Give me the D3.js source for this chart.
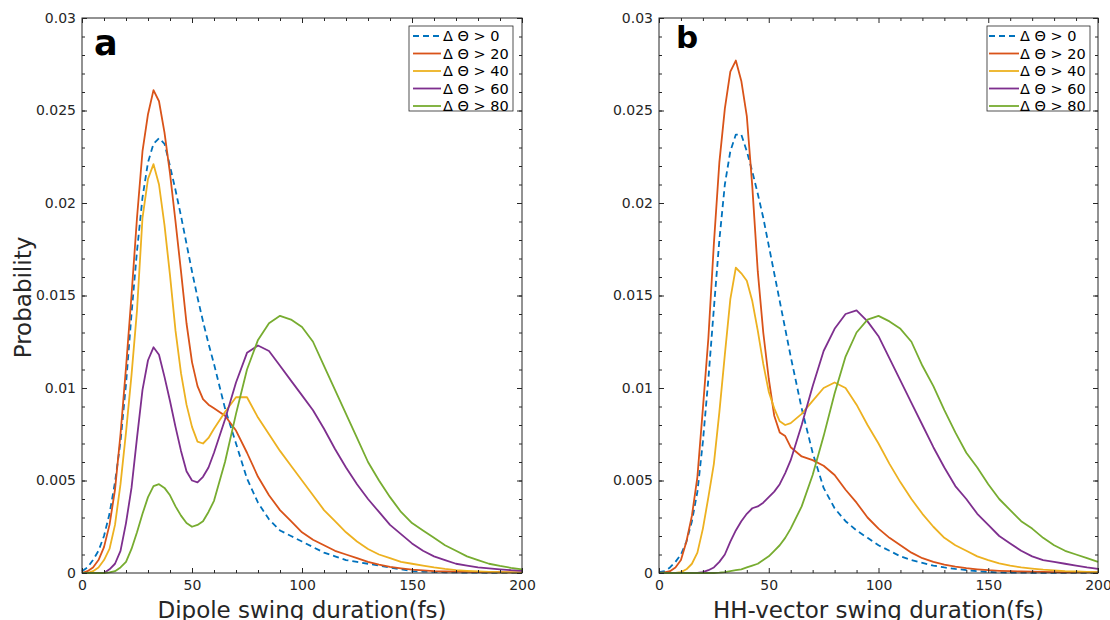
<!DOCTYPE html>
<html>
<head>
<meta charset="utf-8">
<script src="https://cdn.jsdelivr.net/npm/d3@7"></script>
<style>
  html, body { margin: 0; padding: 0; background: #ffffff; }
  svg { display: block; font-family: "DejaVu Sans", "Liberation Sans", sans-serif; }
</style>
</head>
<body>
<svg id="chart" width="1110" height="620"></svg>
<script>
// ---------------- DATA ----------------
const durations = [0, 2.5, 5, 7.5, 10, 12.5, 15, 17.5, 20, 22.5, 25, 27.5, 30, 32.5, 35, 37.5, 40, 42.5, 45, 47.5,
  50, 52.5, 55, 57.5, 60, 65, 70, 75, 80, 85, 90, 95, 100, 105, 110, 115, 120, 125, 130, 135,
  140, 145, 150, 155, 160, 165, 170, 175, 180, 185, 190, 195, 200];

const seriesLabels = ["\u0394 \u0398 > 0", "\u0394 \u0398 > 20", "\u0394 \u0398 > 40", "\u0394 \u0398 > 60", "\u0394 \u0398 > 80"];
const seriesColors = ["#0072BD", "#D95319", "#EDB120", "#7E2F8E", "#77AC30"];

// Panel a: dipole swing duration
const dipoleGt0 = [0.0001, 0.0003, 0.0007, 0.0012, 0.0020, 0.0032, 0.0049, 0.0071, 0.0102, 0.0140, 0.0174, 0.0203, 0.0222, 0.0232, 0.0235, 0.0232, 0.0220, 0.0207, 0.0193, 0.0178,
  0.0163, 0.0149, 0.0136, 0.0124, 0.0113, 0.0089, 0.0070, 0.0051, 0.0038, 0.0029, 0.0023, 0.0020, 0.0017, 0.0014, 0.0011, 0.0009, 0.0007, 0.0006, 0.0005, 0.0004,
  0.0003, 0.0002, 0.0001, 0.00008, 0.00006, 0.00004, 0.00003, 0.00002, 0.00002, 0.00001, 0.00001, 0.00001, 0.00001];
const dipoleGt20 = [0, 0.0001, 0.0003, 0.0007, 0.0014, 0.0026, 0.0045, 0.0075, 0.0111, 0.0150, 0.0192, 0.0228, 0.0248, 0.0261, 0.0255, 0.0238, 0.0216, 0.0190, 0.0163, 0.0135,
  0.0114, 0.0101, 0.0094, 0.0091, 0.0089, 0.0085, 0.0077, 0.0065, 0.0052, 0.0042, 0.0034, 0.0028, 0.0022, 0.0018, 0.0015, 0.0012, 0.0010, 0.0008, 0.0006, 0.00045,
  0.00033, 0.00025, 0.00018, 0.00014, 0.0001, 0.00008, 0.00007, 0.00006, 0.00005, 0.00004, 0.00004, 0.00003, 0.00003];
const dipoleGt40 = [0, 0, 0.0001, 0.0003, 0.0007, 0.0013, 0.0026, 0.0048, 0.0076, 0.0107, 0.0142, 0.0192, 0.0213, 0.0221, 0.0210, 0.0188, 0.0161, 0.0131, 0.0108, 0.0091,
  0.0079, 0.0071, 0.0070, 0.0073, 0.0078, 0.0087, 0.0095, 0.0095, 0.0084, 0.0075, 0.0066, 0.0058, 0.0050, 0.0042, 0.0034, 0.0028, 0.0022, 0.0017, 0.0013, 0.0010,
  0.0008, 0.0006, 0.0005, 0.0004, 0.0003, 0.00022, 0.00016, 0.00012, 0.00009, 0.00006, 0.00004, 0.00003, 0.00002];
const dipoleGt60 = [0, 0, 0, 0, 0, 0.0002, 0.0005, 0.0012, 0.0027, 0.0046, 0.0073, 0.0099, 0.0115, 0.0122, 0.0118, 0.0106, 0.0093, 0.0079, 0.0066, 0.0055,
  0.0050, 0.0049, 0.0052, 0.0057, 0.0065, 0.0083, 0.0103, 0.0119, 0.0123, 0.0120, 0.0112, 0.0104, 0.0096, 0.0088, 0.0078, 0.0067, 0.0057, 0.0048, 0.0040, 0.0033,
  0.0026, 0.0021, 0.0016, 0.0012, 0.0009, 0.0007, 0.0005, 0.0004, 0.0003, 0.00025, 0.0002, 0.00015, 0.00012];
const dipoleGt80 = [0, 0, 0, 0, 0, 0.00003, 0.0001, 0.0003, 0.0006, 0.0013, 0.0022, 0.0032, 0.0041, 0.0047, 0.0048, 0.0046, 0.0042, 0.0036, 0.0031, 0.0027,
  0.0025, 0.0026, 0.0028, 0.0033, 0.0039, 0.0060, 0.0086, 0.0110, 0.0126, 0.0135, 0.0139, 0.0137, 0.0133, 0.0125, 0.0112, 0.0099, 0.0086, 0.0073, 0.0060, 0.0050,
  0.0041, 0.0033, 0.0027, 0.0023, 0.0019, 0.0015, 0.0012, 0.0009, 0.0007, 0.0005, 0.00038, 0.00028, 0.0002];

// Panel b: HH-vector swing duration
const hhGt0 = [0.00005, 0.0001, 0.0003, 0.0006, 0.0010, 0.0017, 0.0028, 0.0044, 0.0071, 0.0105, 0.0143, 0.0180, 0.0210, 0.0228, 0.0237, 0.0237, 0.0228, 0.0217, 0.0205, 0.0192,
  0.0177, 0.0162, 0.0147, 0.0132, 0.0117, 0.0089, 0.0065, 0.0046, 0.0035, 0.0028, 0.0023, 0.0019, 0.0015, 0.0012, 0.0009, 0.0007, 0.00055, 0.0004, 0.0003, 0.00022,
  0.00016, 0.0001, 0.00006, 0.00003, 0.00002, 0.00002, 0.00001, 0.00001, 0.00001, 0.00001, 0.00001, 0.00001, 0.00001];
const hhGt20 = [0, 0.00003, 0.0001, 0.0003, 0.0007, 0.0017, 0.0031, 0.0052, 0.0089, 0.0127, 0.0178, 0.0222, 0.0251, 0.0271, 0.0277, 0.0266, 0.0247, 0.0209, 0.0163, 0.0130,
  0.0105, 0.0085, 0.0076, 0.0074, 0.0068, 0.0063, 0.0061, 0.0058, 0.0053, 0.0045, 0.0038, 0.0030, 0.0024, 0.0019, 0.0015, 0.0011, 0.0008, 0.0006, 0.00045, 0.00034,
  0.00026, 0.0002, 0.00015, 0.00012, 0.0001, 0.00008, 0.00007, 0.00006, 0.00005, 0.00004, 0.00004, 0.00003, 0.00003];
const hhGt40 = [0, 0, 0, 0, 0.00005, 0.0002, 0.0005, 0.0011, 0.0024, 0.0041, 0.0059, 0.0087, 0.0118, 0.0148, 0.0165, 0.0162, 0.0158, 0.0147, 0.0131, 0.0113,
  0.0098, 0.0089, 0.0082, 0.0080, 0.0081, 0.0086, 0.0093, 0.0100, 0.0103, 0.0100, 0.0091, 0.0080, 0.0070, 0.0059, 0.0049, 0.0040, 0.0032, 0.0025, 0.0019, 0.0015,
  0.0012, 0.0009, 0.0007, 0.00052, 0.0004, 0.0003, 0.00024, 0.00018, 0.00014, 0.0001, 0.00008, 0.00006, 0.00004];
const hhGt60 = [0, 0, 0, 0, 0, 0, 0, 0, 0.00005, 0.00015, 0.0003, 0.0006, 0.0010, 0.0017, 0.0023, 0.0028, 0.0032, 0.0035, 0.0036, 0.0038,
  0.0041, 0.0044, 0.0048, 0.0054, 0.0061, 0.0080, 0.0101, 0.0120, 0.0132, 0.0140, 0.0142, 0.0136, 0.0128, 0.0116, 0.0104, 0.0092, 0.0080, 0.0068, 0.0057, 0.0047,
  0.0040, 0.0032, 0.0026, 0.0020, 0.0016, 0.0012, 0.0009, 0.0007, 0.0006, 0.0005, 0.0004, 0.0003, 0.00022];
const hhGt80 = [0, 0, 0, 0, 0, 0, 0, 0, 0, 0, 0, 0.00002, 0.00005, 0.0001, 0.00015, 0.0002, 0.0003, 0.0004, 0.0005, 0.0007,
  0.0009, 0.0012, 0.0015, 0.0019, 0.0024, 0.0036, 0.0053, 0.0074, 0.0097, 0.0117, 0.0130, 0.0137, 0.0139, 0.0136, 0.0132, 0.0125, 0.0112, 0.0101, 0.0088, 0.0076,
  0.0065, 0.0057, 0.0048, 0.0040, 0.0034, 0.0028, 0.0024, 0.0019, 0.0015, 0.0012, 0.0010, 0.0008, 0.0006];

const xTickValues = [0, 50, 100, 150, 200];
const yTickValues = [0, 0.005, 0.01, 0.015, 0.02, 0.025, 0.03];
const yTickLabels = ["0", "0.005", "0.01", "0.015", "0.02", "0.025", "0.03"];
const panelLetters = ["a", "b"];
const xAxisTitles = ["Dipole swing duration(fs)", "HH-vector swing duration(fs)"];
const yAxisTitle = "Probability";

// ---------------- DRAWING ----------------
const svg = d3.select("#chart");
const ink = "#262626";
const plotTop = 18, plotBottom = 573;

const panels = [
  { left: 82, right: 522, series: [dipoleGt0, dipoleGt20, dipoleGt40, dipoleGt60, dipoleGt80],
    letter: panelLetters[0], letterX: 94, letterY: 55, letterSize: 35, title: xAxisTitles[0],
    legend: { x: 409, y: 26, w: 104, h: 85, lineX0: 413, lineX1: 441, textX: 443 } },
  { left: 659, right: 1098, series: [hhGt0, hhGt20, hhGt40, hhGt60, hhGt80],
    letter: panelLetters[1], letterX: 676, letterY: 48, letterSize: 31, title: xAxisTitles[1],
    legend: { x: 987, y: 26, w: 103, h: 85, lineX0: 989, lineX1: 1019, textX: 1020 } }
];

const yScale = d3.scaleLinear().domain([0, 0.03]).range([plotBottom, plotTop]);
const yMinor = d3.range(0, 0.0305, 0.001);
const xMinor = d3.range(0, 201, 10);

panels.forEach((p) => {
  const x = d3.scaleLinear().domain([0, 200]).range([p.left, p.right]);
  const g = svg.append("g");

  // lines
  const line = d3.line().x((d) => x(d[0])).y((d) => yScale(d[1])).curve(d3.curveLinear);
  p.series.forEach((vals, i) => {
    const pts = durations.map((dx, k) => [dx, vals[k]]);
    g.append("path")
      .attr("d", line(pts))
      .attr("fill", "none")
      .attr("stroke", seriesColors[i])
      .attr("stroke-width", 1.8)
      .attr("stroke-linejoin", "round")
      .attr("stroke-dasharray", i === 0 ? "6,4" : null);
  });

  // box
  g.append("rect")
    .attr("x", p.left).attr("y", plotTop)
    .attr("width", p.right - p.left).attr("height", plotBottom - plotTop)
    .attr("fill", "none").attr("stroke", ink).attr("stroke-width", 1);

  const styleAxis = (sel) => {
    sel.select(".domain").remove();
    sel.selectAll(".tick line").attr("stroke", ink).attr("stroke-width", 1);
    sel.selectAll("text").attr("fill", ink).attr("font-size", 14).attr("font-family", "DejaVu Sans");
  };

  // bottom axis major
  g.append("g").attr("transform", `translate(0,${plotBottom})`)
    .call(d3.axisBottom(x).tickValues(xTickValues).tickFormat(d3.format("d")).tickSizeInner(-5).tickSizeOuter(0).tickPadding(7))
    .call(styleAxis);
  // bottom minor
  g.append("g").attr("transform", `translate(0,${plotBottom})`)
    .call(d3.axisBottom(x).tickValues(xMinor.filter(v => v % 50 !== 0)).tickFormat("").tickSizeInner(-3).tickSizeOuter(0))
    .call(styleAxis);
  // top ticks
  g.append("g").attr("transform", `translate(0,${plotTop})`)
    .call(d3.axisTop(x).tickValues(xTickValues).tickFormat("").tickSizeInner(-5).tickSizeOuter(0))
    .call(styleAxis);
  g.append("g").attr("transform", `translate(0,${plotTop})`)
    .call(d3.axisTop(x).tickValues(xMinor.filter(v => v % 50 !== 0)).tickFormat("").tickSizeInner(-3).tickSizeOuter(0))
    .call(styleAxis);

  // left axis major
  g.append("g").attr("transform", `translate(${p.left},0)`)
    .call(d3.axisLeft(yScale).tickValues(yTickValues).tickFormat((d, i) => yTickLabels[i]).tickSizeInner(-5).tickSizeOuter(0).tickPadding(6))
    .call(styleAxis);
  g.append("g").attr("transform", `translate(${p.left},0)`)
    .call(d3.axisLeft(yScale).tickValues(yMinor).tickFormat("").tickSizeInner(-3).tickSizeOuter(0))
    .call(styleAxis);
  // right ticks
  g.append("g").attr("transform", `translate(${p.right},0)`)
    .call(d3.axisRight(yScale).tickValues(yTickValues).tickFormat("").tickSizeInner(-5).tickSizeOuter(0))
    .call(styleAxis);
  g.append("g").attr("transform", `translate(${p.right},0)`)
    .call(d3.axisRight(yScale).tickValues(yMinor).tickFormat("").tickSizeInner(-3).tickSizeOuter(0))
    .call(styleAxis);

  // panel letter
  g.append("text")
    .attr("x", p.letterX).attr("y", p.letterY)
    .attr("font-size", p.letterSize).attr("font-weight", "bold")
    .attr("fill", "#000").text(p.letter);

  // x-axis title
  g.append("text")
    .attr("x", (p.left + p.right) / 2).attr("y", 618)
    .attr("text-anchor", "middle").attr("font-size", 23)
    .attr("fill", ink).text(p.title);

  // legend
  const L = p.legend;
  const lg = g.append("g");
  lg.append("rect").attr("x", L.x).attr("y", L.y).attr("width", L.w).attr("height", L.h)
    .attr("fill", "#fff").attr("stroke", ink).attr("stroke-width", 0.8);
  seriesLabels.forEach((lab, i) => {
    const yy = L.y + 10 + i * 17.5;
    lg.append("line").attr("x1", L.lineX0).attr("x2", L.lineX1).attr("y1", yy).attr("y2", yy)
      .attr("stroke", seriesColors[i]).attr("stroke-width", 1.8)
      .attr("stroke-dasharray", i === 0 ? "6,4" : null);
    lg.append("text").attr("x", L.textX).attr("y", yy).attr("dy", "0.36em")
      .attr("font-size", 14.5).attr("fill", "#000").text(lab);
  });
});

// y-axis title
svg.append("text")
  .attr("transform", `translate(31,${(plotTop + plotBottom) / 2 + 2}) rotate(-90)`)
  .attr("text-anchor", "middle").attr("font-size", 23)
  .attr("fill", ink).text(yAxisTitle);
</script>
</body>
</html>
